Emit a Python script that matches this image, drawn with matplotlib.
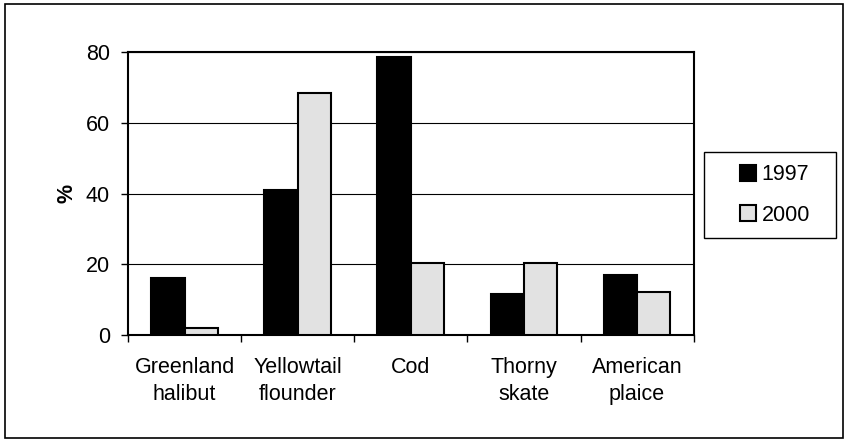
import numpy as np
import matplotlib.pyplot as plt
from matplotlib.patches import Rectangle

plt.rcParams['font.family'] = ['Liberation Sans', 'DejaVu Sans']

# Data
species = ['Greenland\nhalibut', 'Yellowtail\nflounder', 'Cod', 'Thorny\nskate', 'American\nplaice']
pct_1997 = [16.2, 41.0, 78.6, 11.6, 16.9]
pct_2000 = [1.9, 68.4, 20.4, 20.4, 12.1]

fs = 15.5

fig = plt.figure(figsize=(8.48, 4.42), dpi=100)
ax = fig.add_axes([0.151, 0.242, 0.667, 0.640])

x = np.arange(len(species))
w = 0.295
ax.bar(x - w / 2, pct_1997, w, color='black', edgecolor='black', linewidth=1.5, label='1997', zorder=3)
ax.bar(x + w / 2, pct_2000, w, color='#e2e2e2', edgecolor='black', linewidth=1.5, label='2000', zorder=3)

# gridlines and axes
ax.set_ylim(0, 80)
ax.set_xlim(-0.5, len(species) - 0.5)
ax.set_yticks([0, 20, 40, 60, 80])
ax.yaxis.grid(True, color='black', linewidth=0.8, zorder=0)
ax.set_xticks(np.arange(len(species) + 1) - 0.5, minor=False)
ax.set_xticklabels([])
ax.set_xticks(x, minor=True)
ax.set_xticklabels(species, minor=True, fontsize=fs)
for t in ax.get_xticklabels(minor=True):
    t.set_linespacing(1.35)
ax.tick_params(axis='x', which='minor', length=0, pad=16)
ax.tick_params(axis='x', which='major', length=5, width=1, direction='out')
ax.tick_params(axis='y', length=5, width=1, labelsize=fs, direction='out', pad=8)
for s in ax.spines.values():
    s.set_linewidth(1.5)
ax.set_ylabel('%', fontsize=fs, fontweight='bold', labelpad=6)

# legend box at right
fig.patches.append(Rectangle((0.830, 0.4615), 0.156, 0.1946, transform=fig.transFigure,
                             fill=False, edgecolor='black', linewidth=1.0))
leg = fig.legend(loc='center', bbox_to_anchor=(0.914, 0.559), fontsize=fs, frameon=False,
                 handlelength=0.75, handleheight=0.75, handletextpad=0.25, labelspacing=0.9,
                 borderpad=0)

# outer border of the figure
fig.patches.append(Rectangle((0.006, 0.01), 0.988, 0.98, transform=fig.transFigure,
                             fill=False, edgecolor='black', linewidth=1.2))

plt.savefig('out.png', dpi=100)
